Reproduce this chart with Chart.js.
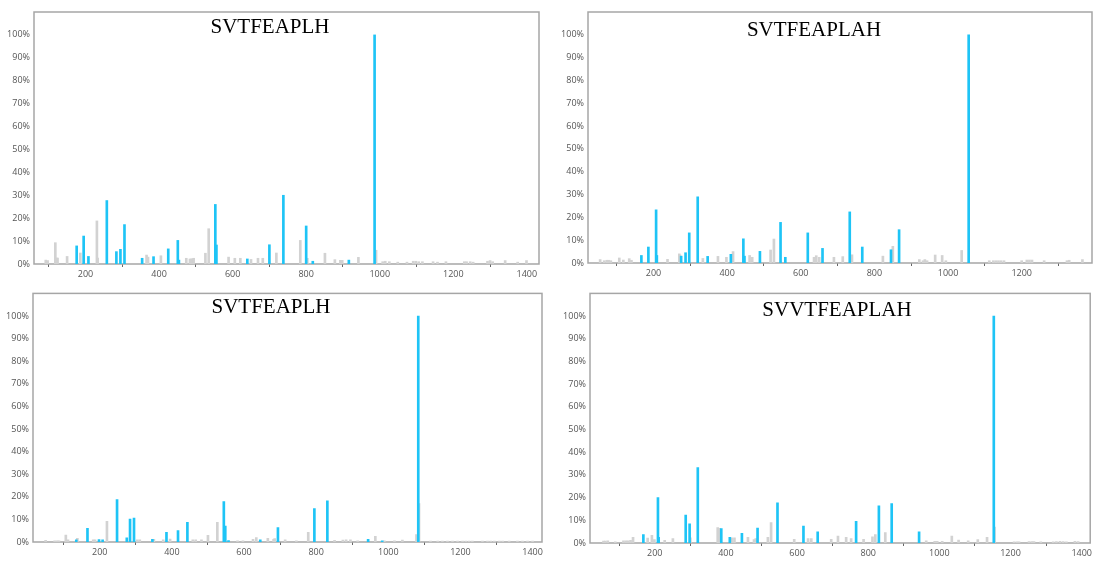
<!DOCTYPE html>
<html>
<head>
<meta charset="utf-8">
<script src="https://cdn.jsdelivr.net/npm/chart.js@4"></script>
<style>
  html, body { margin: 0; padding: 0; background: #fff; }
  body { position: relative; width: 1094px; height: 561px; overflow: hidden; }
  canvas { position: absolute; }
</style>
</head>
<body>
<canvas id="c1" width="545" height="283" style="left:0px;top:0px"></canvas>
<canvas id="c2" width="545" height="283" style="left:549px;top:0px"></canvas>
<canvas id="c3" width="545" height="277" style="left:0px;top:284px"></canvas>
<canvas id="c4" width="545" height="277" style="left:549px;top:284px"></canvas>
<script>
// peptide names shown in each panel
const titles = ["SVTFEAPLH", "SVTFEAPLAH", "SVTFEAPLH", "SVVTFEAPLAH"];

const xTicks = [200, 400, 600, 800, 1000, 1200, 1400];
const yTicks = [0, 10, 20, 30, 40, 50, 60, 70, 80, 90, 100];

// panel 1 (m/z, relative intensity %)
const p1BlueMz  = [176, 195, 208, 258, 284, 295, 306, 354, 385, 425, 451, 454, 553, 556, 640, 700, 738, 800, 818, 916, 986];
const p1BlueInt = [7.9, 12.2, 3.3, 27.7, 5.4, 6.4, 17.2, 2.5, 3.2, 6.6, 10.3, 1.7, 26, 8.3, 2.2, 8.4, 30, 16.6, 1.2, 1.7, 100];
const p1GrayMz  = [92, 97, 118, 121, 124, 150, 186, 231, 233, 366, 370, 405, 474, 484, 489, 494, 526, 535, 589, 606, 621, 650, 669, 682, 719, 784, 803, 851, 878, 893, 898, 942, 990, 1008, 1015, 1026, 1049, 1074, 1091, 1098, 1106, 1116, 1145, 1157, 1180, 1230, 1236, 1246, 1254, 1293, 1300, 1307, 1341, 1375, 1399];
const p1GrayInt = [1.7, 1.5, 9.3, 2.6, 2.6, 3.3, 4.8, 18.8, 2.6, 3.9, 3, 3.6, 2.5, 2.2, 2.3, 2.5, 4.7, 15.4, 3, 2.5, 2.5, 2, 2.5, 2.5, 4.8, 10.3, 2.5, 4.7, 1.9, 1.6, 1.6, 2.9, 6, 1, 1.2, 1, 0.8, 0.8, 1.2, 1.2, 1, 1, 1, 0.8, 1, 1, 1, 1, 0.8, 1.2, 1.5, 1, 1.5, 0.8, 1.5];

// panel 2
const p2BlueMz  = [167, 186, 207, 209, 275, 287, 297, 320, 347, 410, 444, 447, 489, 545, 558, 619, 659, 733, 767, 845, 867, 1056];
const p2BlueInt = [3.3, 7, 23.3, 3.3, 3, 4.5, 13.2, 29, 2.9, 3.8, 10.6, 3, 5.1, 17.8, 2.5, 13.2, 6.4, 22.4, 7, 5.8, 14.6, 100];
const p2GrayMz  = [55, 66, 73, 78, 84, 107, 118, 134, 140, 238, 270, 272, 334, 375, 398, 416, 461, 468, 518, 527, 636, 642, 650, 690, 714, 739, 823, 850, 922, 932, 937, 943, 965, 984, 994, 1037, 1112, 1123, 1130, 1137, 1144, 1152, 1200, 1214, 1221, 1228, 1261, 1323, 1329, 1365];
const p2GrayInt = [1.5, 1, 1.2, 1.2, 1, 2.2, 1.3, 1.9, 1.2, 1.6, 4, 3.5, 2, 2.9, 2.5, 5, 3.3, 2.5, 5.7, 10.5, 2.5, 3.2, 2.5, 2.5, 2.8, 3.6, 3, 7.3, 1.5, 1, 1.5, 1, 3.5, 3.3, 1, 5.5, 1, 1, 1, 1, 1, 1, 1, 1.3, 1.3, 1.3, 1, 1, 1.2, 1.5];

// panel 3
const p3BlueMz  = [135, 166, 198, 208, 248, 275, 284, 295, 346, 385, 417, 443, 544, 548, 557, 645, 694, 795, 831, 944, 983, 1083];
const p3BlueInt = [1, 6, 1.1, 1, 18.8, 1.8, 10.1, 10.6, 1.2, 4.3, 5.1, 8.7, 17.9, 7, 0.6, 1, 6.4, 14.8, 18.2, 1.2, 0.5, 100];
const p3GrayMz  = [50, 75, 82, 87, 106, 112, 138, 182, 187, 220, 304, 311, 350, 376, 395, 458, 466, 482, 500, 526, 582, 597, 625, 634, 666, 682, 685, 714, 745, 778, 851, 874, 883, 895, 915, 964, 989, 1017, 1039, 1078, 1085, 1117, 1137, 1150, 1164, 1178, 1192, 1206, 1215, 1224, 1233, 1261, 1275, 1284, 1294, 1308, 1317, 1335, 1358, 1372, 1386, 1400];
const p3GrayInt = [0.7, 0.5, 0.5, 0.5, 3.1, 1, 1.6, 1, 1, 9.1, 1, 1, 1.2, 1, 1.3, 1, 1, 1, 3, 8.7, 0.5, 0.5, 1.2, 2, 1.6, 1.2, 1.5, 1, 0.5, 4.3, 0.7, 0.8, 1, 1, 0.5, 2.5, 0.5, 0.5, 0.8, 3.3, 17, 0.4, 0.4, 0.4, 0.4, 0.4, 0.4, 0.4, 0.4, 0.4, 0.4, 0.4, 0.4, 0.4, 0.4, 0.4, 0.4, 0.4, 0.4, 0.4, 0.4, 0.4];

// panel 4
const p4BlueMz  = [168, 209, 211, 287, 298, 321, 387, 411, 445, 489, 545, 618, 658, 766, 830, 866, 943, 1153];
const p4BlueInt = [3.7, 20, 2.5, 12.3, 8.4, 33.2, 6.4, 2.5, 4.3, 6.6, 17.7, 7.5, 4.9, 9.5, 16.4, 17.4, 4.9, 100];
const p4GrayMz  = [56, 61, 68, 89, 112, 119, 125, 132, 139, 180, 192, 199, 228, 251, 300, 377, 382, 416, 424, 462, 479, 484, 518, 527, 592, 631, 640, 696, 715, 738, 752, 787, 812, 820, 848, 963, 987, 994, 1008, 1035, 1054, 1081, 1108, 1134, 1155, 1210, 1218, 1224, 1252, 1260, 1266, 1285, 1320, 1329, 1339, 1348, 1357, 1381, 1390];
const p4GrayInt = [0.8, 0.8, 1, 0.5, 1, 1, 1, 1.2, 2.5, 2.2, 3.4, 1.5, 1.2, 1.9, 2.3, 6.8, 6.5, 2.3, 2.3, 2.5, 1.5, 2, 2.5, 9, 1.6, 2, 2, 1.6, 3, 2.5, 2, 1.6, 2.7, 3.7, 4.6, 1, 0.7, 0.7, 0.7, 3, 1.3, 1, 1.5, 2.5, 7, 0.5, 0.5, 0.5, 0.6, 0.6, 0.6, 0.5, 0.5, 0.6, 0.7, 0.6, 0.5, 0.7, 0.6];

const BLUE = "#1ec4f6";
const GRAY = "#d2d2d2";
const AXIS = "#a6a6a6";
const TICK_FONT = { family: '"Open Sans", "Noto Sans", sans-serif', size: 9 };

// frame around plot area + title inside it
const framePlugin = {
  id: "frame",
  beforeDatasetsDraw(chart) {
    const { ctx, chartArea: a } = chart;
    ctx.save();
    ctx.strokeStyle = AXIS;
    ctx.lineWidth = 1.5;
    ctx.strokeRect(a.left, a.top, a.right - a.left, a.bottom - a.top);
    ctx.restore();
  },
  afterDraw(chart, args, opts) {
    const ctx = chart.ctx;
    ctx.save();
    ctx.font = '21px "Liberation Serif", "Times New Roman", serif';
    ctx.fillStyle = "#000";
    ctx.textAlign = "center";
    ctx.textBaseline = "middle";
    ctx.fillText(opts.text, opts.x, opts.y);
    ctx.restore();
  }
};

function points(mz, inten) {
  return mz.map((m, i) => ({ x: m, y: inten[i] }));
}

function drawPanel(p) {
  new Chart(document.getElementById(p.id), {
    type: "bar",
    data: {
      datasets: [
        { data: points(p.blueMz, p.blueInt), backgroundColor: BLUE, barThickness: 2, grouped: false, order: 0 },
        { data: points(p.grayMz, p.grayInt), backgroundColor: GRAY, barThickness: 2, grouped: false, order: 1 }
      ]
    },
    options: {
      responsive: false,
      animation: false,
      devicePixelRatio: 1,
      layout: { padding: { top: p.top, right: p.right, left: 0, bottom: 0 } },
      plugins: {
        legend: { display: false },
        tooltip: { enabled: false },
        frame: { text: p.title, x: p.titleX, y: p.titleY }
      },
      scales: {
        x: {
          type: "linear",
          min: p.min,
          max: p.max,
          offset: false,
          afterBuildTicks: s => { s.ticks = xTicks.filter(v => v >= s.min && v <= s.max).map(v => ({ value: v })); },
          afterFit: s => { s.height = p.xH; },
          grid: { drawOnChartArea: false, tickLength: 3, color: "#666" },
          border: { display: false },
          ticks: { autoSkip: false, maxRotation: 0, padding: 2, color: "#555", font: TICK_FONT, callback: v => String(v) }
        },
        y: {
          min: 0,
          max: 110,
          afterBuildTicks: s => { s.ticks = yTicks.map(v => ({ value: v })); },
          afterFit: s => { s.width = p.yW; },
          grid: { display: false, drawTicks: false },
          border: { display: false },
          ticks: { padding: 4, color: "#555", font: TICK_FONT, callback: v => v + "%" }
        }
      }
    },
    plugins: [framePlugin]
  });
}

drawPanel({ id: "c1", title: titles[0], blueMz: p1BlueMz, blueInt: p1BlueInt, grayMz: p1GrayMz, grayInt: p1GrayInt,
  min: 60, max: 1433, yW: 34, top: 12, right: 6, xH: 19, titleX: 270, titleY: 27 });
drawPanel({ id: "c2", title: titles[1], blueMz: p2BlueMz, blueInt: p2BlueInt, grayMz: p2GrayMz, grayInt: p2GrayInt,
  min: 22, max: 1391, yW: 39, top: 12, right: 2, xH: 20, titleX: 265, titleY: 30 });
drawPanel({ id: "c3", title: titles[2], blueMz: p3BlueMz, blueInt: p3BlueInt, grayMz: p3GrayMz, grayInt: p3GrayInt,
  min: 15, max: 1426, yW: 33, top: 6, right: 3, xH: 19, titleX: 271, titleY: 23 });
drawPanel({ id: "c4", title: titles[3], blueMz: p4BlueMz, blueInt: p4BlueInt, grayMz: p4GrayMz, grayInt: p4GrayInt,
  min: 18, max: 1424, yW: 41, top: 8, right: 2, xH: 18, titleX: 288, titleY: 26 });
</script>
</body>
</html>
